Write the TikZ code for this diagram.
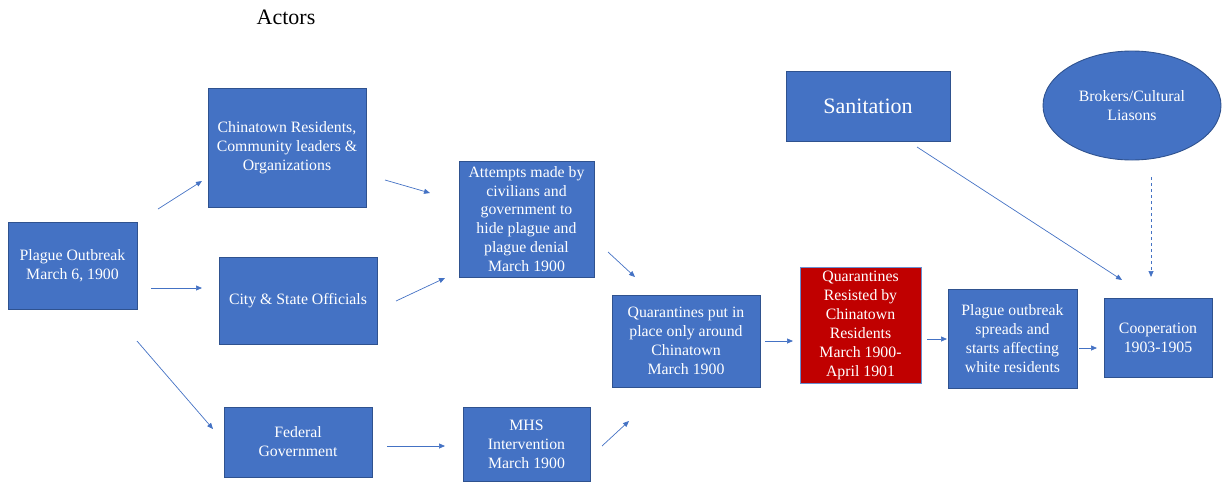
\documentclass[tikz,border=0pt]{standalone}
\usepackage{fontspec}
\setmainfont{Liberation Serif}
\usetikzlibrary{arrows.meta,shapes.geometric}
\definecolor{boxblue}{HTML}{4472C4}
\definecolor{edgeblue}{HTML}{2F528F}
\definecolor{boxred}{HTML}{C00000}
\definecolor{arrowblue}{HTML}{4472C4}
\tikzset{
  box/.style={rectangle, draw=edgeblue, line width=0.9pt, fill=boxblue, text=white,
    align=center, inner sep=0pt, font=\fontsize{15.8}{18.9}\selectfont},
  redbox/.style={box, fill=boxred, draw=boxblue!80!white},
  oval/.style={ellipse, draw=edgeblue, line width=0.9pt, fill=boxblue, text=white,
    align=center, inner sep=0pt, font=\fontsize{15.8}{18.9}\selectfont},
  conn/.style={draw=arrowblue, line width=0.7pt, -{Triangle[length=6pt,width=5pt]}},
  dconn/.style={conn, dashed},
}
\begin{document}
\begin{tikzpicture}[x=1pt,y=-1pt]
\useasboundingbox (0,0) rectangle (1222,482);
\node[font=\fontsize{22}{26}\selectfont] (title) at (286,17) {Actors};
\node[box, minimum width=129pt, minimum height=87pt] (plague) at (72.5,265.5) {Plague Outbreak\\March 6, 1900};
\node[box, minimum width=158pt, minimum height=119pt] (chin) at (287,147.5) {Chinatown Residents,\\Community leaders \&\\Organizations};
\node[box, minimum width=158pt, minimum height=87pt] (city) at (298,300.5) {City \& State Officials};
\node[box, minimum width=148pt, minimum height=70pt] (fed) at (298,442) {Federal\\Government};
\node[box, minimum width=135pt, minimum height=116pt] (att) at (526.5,219) {Attempts made by\\civilians and\\government to\\hide plague and\\plague denial\\March 1900};
\node[box, minimum width=127pt, minimum height=74pt] (mhs) at (526.5,444) {MHS\\Intervention\\March 1900};
\node[box, minimum width=148pt, minimum height=92pt] (quar) at (686,341) {Quarantines put in\\place only around\\Chinatown\\March 1900};
\node[redbox, minimum width=121pt, minimum height=116pt] (resist) at (860.5,325.5) {Quarantines\\Resisted by\\Chinatown\\Residents\\March 1900-\\April 1901};
\node[box, minimum width=129pt, minimum height=99pt] (spread) at (1012.5,338.5) {Plague outbreak\\spreads and\\starts affecting\\white residents};
\node[box, minimum width=108pt, minimum height=79pt] (coop) at (1158,337.5) {Cooperation\\1903-1905};
\node[box, minimum width=164pt, minimum height=70pt, font=\fontsize{22}{26}\selectfont] (sanit) at (868,106) {Sanitation};
\node[oval, minimum width=178pt, minimum height=109pt] (brok) at (1132,105.5) {Brokers/Cultural\\Liasons};
% connector end points
\coordinate (a1s) at (158,209); \coordinate (a1e) at (202,181);
\coordinate (a2s) at (151,288); \coordinate (a2e) at (202,288);
\coordinate (a3s) at (137,341); \coordinate (a3e) at (213,429);
\coordinate (a4s) at (385,180); \coordinate (a4e) at (430,193);
\coordinate (a5s) at (396,301); \coordinate (a5e) at (445,278);
\coordinate (a6s) at (387,446); \coordinate (a6e) at (445,446);
\coordinate (a7s) at (608,252); \coordinate (a7e) at (635,277);
\coordinate (a8s) at (602,446); \coordinate (a8e) at (629,421);
\coordinate (a9s) at (765,341); \coordinate (a9e) at (793,341);
\coordinate (a10s) at (927,339); \coordinate (a10e) at (947,339);
\coordinate (a11s) at (1079,348); \coordinate (a11e) at (1097,348);
\coordinate (a12s) at (917,147); \coordinate (a12e) at (1122,280);
\coordinate (a13s) at (1151,177); \coordinate (a13e) at (1151,277);
\draw[conn] (a1s) -- (a1e);
\draw[conn] (a2s) -- (a2e);
\draw[conn] (a3s) -- (a3e);
\draw[conn] (a4s) -- (a4e);
\draw[conn] (a5s) -- (a5e);
\draw[conn] (a6s) -- (a6e);
\draw[conn] (a7s) -- (a7e);
\draw[conn] (a8s) -- (a8e);
\draw[conn] (a9s) -- (a9e);
\draw[conn] (a10s) -- (a10e);
\draw[conn] (a11s) -- (a11e);
\draw[conn] (a12s) -- (a12e);
\draw[dconn] (a13s) -- (a13e);
\end{tikzpicture}
\end{document}
